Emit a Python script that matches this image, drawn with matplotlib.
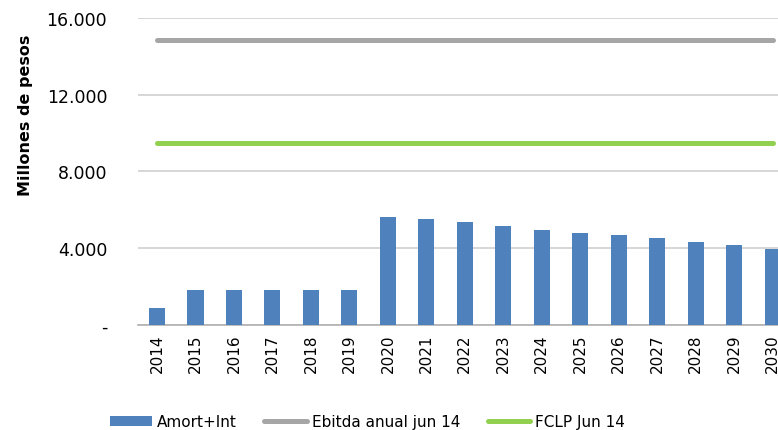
import matplotlib
matplotlib.use("Agg")
import matplotlib.pyplot as plt
from matplotlib.ticker import FixedLocator, FuncFormatter

# datos del gráfico (millones de pesos)
years = ["2014", "2015", "2016", "2017", "2018", "2019", "2020", "2021", "2022",
         "2023", "2024", "2025", "2026", "2027", "2028", "2029", "2030"]
amort_int = [860, 1800, 1800, 1800, 1800, 1800, 5615, 5510, 5350, 5140,
             4965, 4790, 4685, 4510, 4315, 4140, 3950]
ebitda = [14850] * len(years)
fclp = [9470] * len(years)

series_names = ["Amort+Int", "Ebitda anual jun 14", "FCLP Jun 14"]
y_ticks = [0, 4000, 8000, 12000, 16000]

plt.rcParams['font.family'] = ['DejaVu Sans']

fig = plt.figure(figsize=(7.78, 4.31), dpi=100)
ax = fig.add_axes([0.177, 0.244, 0.841, 0.712])

x = list(range(len(years)))
bars = ax.bar(x, amort_int, width=0.42, color="#4f81bd", zorder=3)
l1, = ax.plot(x, ebitda, color="#a6a6a6", linewidth=3.6, solid_capstyle="round",
              zorder=4)
l2, = ax.plot(x, fclp, color="#92d050", linewidth=3.6, solid_capstyle="round",
              zorder=4)

ax.set_xlim(-0.5, len(years) - 0.5)
ax.set_ylim(0, 16000)
ax.yaxis.set_major_locator(FixedLocator(y_ticks))


def fmt(v, pos):
    if v == 0:
        return "-"
    return f"{int(v):,}".replace(",", ".")


ax.yaxis.set_major_formatter(FuncFormatter(fmt))
ax.grid(axis="y", color="#d0d0d0", linewidth=1.2, zorder=0)
ax.set_axisbelow(True)

for s in ["top", "right", "left"]:
    ax.spines[s].set_visible(False)
ax.spines["bottom"].set_color("#b0b0b0")
ax.spines["bottom"].set_linewidth(1.2)

ax.set_xticks(x)
ax.set_xticklabels(years, rotation=90, fontsize=11)
ax.tick_params(axis="x", length=0, pad=6)
ax.tick_params(axis="y", length=0, labelsize=12.5, pad=22)

ax.set_ylabel("Millones de pesos", fontsize=11.5, fontweight="bold")
ax.yaxis.set_label_coords(-0.16, 0.686)

fig.legend([bars, l1, l2], series_names, loc="center",
           bbox_to_anchor=(0.472, 0.019), ncol=3, frameon=False,
           fontsize=11, handlelength=2.8, columnspacing=1.8, handletextpad=0.3)

fig.savefig("out.png", dpi=100)
